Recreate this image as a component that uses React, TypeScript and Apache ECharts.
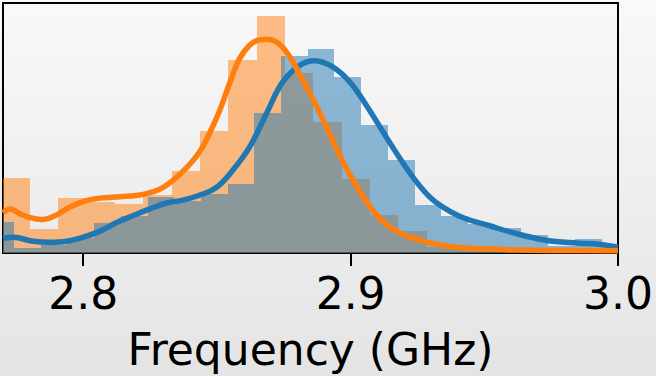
import React, { useEffect, useRef } from "react";
import * as echarts from "echarts";

// Axis
const xMin = 2.77;
const xMax = 3.0;
const tickValues = [2.8, 2.9, 3.0];
const xLabel = "Frequency (GHz)";

// Orange histogram (density per bin)
const orangeBinStart = 2.7695;
const orangeBinWidth = 0.0106;
const orangeDensity = [5.09, 1.6, 3.75, 3.47, 3.33, 3.93, 5.6, 8.27, 13.13, 16.15, 12.27, 8.93, 5.0, 2.6, 1.53, 0.4, 0.2, 0.13];

// Blue histogram (density per bin)
const blueBinStart = 2.7641;
const blueBinWidth = 0.00999;
const blueDensity = [2.13, 0.33, 0.53, 1.0, 2.07, 2.53, 3.8, 3.53, 4.0, 4.67, 9.53, 13.4, 13.87, 12.0, 8.73, 6.33, 3.27, 2.53, 2.0, 1.67, 1.2, 0.47, 0.93, 0.47];

// Orange KDE
const orangeKdeX = [2.77, 2.7726, 2.7763, 2.7801, 2.7846, 2.7894, 2.795, 2.8006, 2.8062, 2.8118, 2.8174, 2.823, 2.8286, 2.8331, 2.8383, 2.8435, 2.8472, 2.851, 2.8547, 2.8584, 2.8622, 2.8655, 2.8689, 2.8745, 2.8808, 2.8872, 2.8931, 2.8995, 2.9058, 2.9118, 2.9181, 2.9256, 2.9319, 2.9379, 2.9443, 2.9517, 2.9629, 2.9778, 3.0];
const orangeKdeY = [2.73, 3.0, 2.67, 2.4, 2.27, 2.53, 3.13, 3.53, 3.73, 3.8, 3.87, 4.0, 4.33, 4.87, 5.73, 6.87, 8.13, 9.67, 11.53, 13.2, 14.13, 14.47, 14.53, 14.0, 12.2, 10.0, 7.73, 5.4, 3.53, 2.2, 1.4, 0.87, 0.6, 0.43, 0.33, 0.27, 0.2, 0.17, 0.15];

// Blue KDE
const blueKdeX = [2.77, 2.7737, 2.7812, 2.7875, 2.7939, 2.7999, 2.8062, 2.8125, 2.8185, 2.8249, 2.8312, 2.8372, 2.8435, 2.8499, 2.8558, 2.8622, 2.8685, 2.8745, 2.8808, 2.8864, 2.8931, 2.8995, 2.9058, 2.9118, 2.9181, 2.9245, 2.9304, 2.9368, 2.9431, 2.9517, 2.9603, 2.973, 2.9853, 2.9928, 3.0];
const blueKdeY = [1.0, 1.07, 0.8, 0.73, 0.8, 1.07, 1.47, 2.07, 2.53, 3.0, 3.4, 3.6, 3.93, 4.47, 5.6, 7.2, 9.47, 11.6, 12.73, 13.07, 12.67, 11.67, 10.07, 8.33, 6.53, 4.87, 3.67, 2.87, 2.33, 1.87, 1.4, 0.87, 0.67, 0.6, 0.4];

const FONT = "DejaVu Sans";

function binsOf(start: number, width: number, vals: number[]) {
  return vals.map((v, i) => [start + i * width, start + (i + 1) * width, v]);
}

function histSeries(data: number[][], color: string) {
  return {
    type: "custom",
    data,
    encode: { x: [0, 1], y: 2 },
    renderItem: (params: any, api: any) => {
      const p0 = api.coord([api.value(0), api.value(2)]);
      const p1 = api.coord([api.value(1), 0]);
      const cs = params.coordSys;
      const x0 = Math.round(p0[0]);
      const x1 = Math.round(p1[0]);
      const y0 = Math.round(p0[1]);
      const y1 = p1[1];
      const shape = echarts.graphic.clipRectByRect(
        { x: x0, y: y0, width: x1 - x0, height: y1 - y0 },
        { x: cs.x, y: cs.y, width: cs.width, height: cs.height }
      );
      if (!shape) return null;
      return { type: "rect", shape, style: { fill: color } };
    },
  };
}

export default function App() {
  const ref = useRef<HTMLDivElement>(null);
  useEffect(() => {
    document.body.style.margin = "0";
    const chart = echarts.init(ref.current!, null, { renderer: "svg" });
    chart.setOption({
      animation: false,
      backgroundColor: {
        type: "linear",
        x: 0, y: 0, x2: 0, y2: 1,
        colorStops: [
          { offset: 0, color: "#f9f9f9" },
          { offset: 1, color: "#e4e4e4" },
        ],
      },
      grid: {
        left: 3,
        top: 3,
        width: 616,
        height: 255,
        show: true,
        borderColor: "#000",
        borderWidth: 2,
        backgroundColor: "transparent",
      },
      xAxis: {
        type: "value",
        min: xMin,
        max: xMax,
        name: xLabel,
        nameLocation: "middle",
        nameGap: 74,
        nameTextStyle: { fontFamily: FONT, fontSize: 44, color: "#000" },
        axisLine: { show: true, lineStyle: { color: "#000", width: 2 } },
        axisTick: {
          show: true,
          length: 13,
          customValues: tickValues,
          lineStyle: { color: "#000", width: 2 },
        },
        axisLabel: {
          show: true,
          customValues: tickValues,
          margin: 18,
          fontFamily: FONT,
          fontSize: 44,
          color: "#000",
          formatter: (v: number) => v.toFixed(1),
        },
        splitLine: { show: false },
      },
      yAxis: {
        type: "value",
        min: 0,
        max: 17,
        show: false,
        splitLine: { show: false },
      },
      series: [
        histSeries(binsOf(orangeBinStart, orangeBinWidth, orangeDensity), "rgba(255,127,14,0.5)"),
        histSeries(binsOf(blueBinStart, blueBinWidth, blueDensity), "rgba(31,119,180,0.5)"),
        {
          type: "line",
          data: blueKdeX.map((x, i) => [x, blueKdeY[i]]),
          smooth: 0.4,
          showSymbol: false,
          symbol: "none",
          lineStyle: { color: "#1f77b4", width: 5.5 },
          clip: true,
        },
        {
          type: "line",
          data: orangeKdeX.map((x, i) => [x, orangeKdeY[i]]),
          smooth: 0.4,
          showSymbol: false,
          symbol: "none",
          lineStyle: { color: "#ff7f0e", width: 5.5 },
          clip: true,
        },
      ],
    });
    return () => chart.dispose();
  }, []);
  return (
    <div
      ref={ref}
      style={{ position: "fixed", left: 0, top: 0, width: 656, height: 376 }}
    />
  );
}
